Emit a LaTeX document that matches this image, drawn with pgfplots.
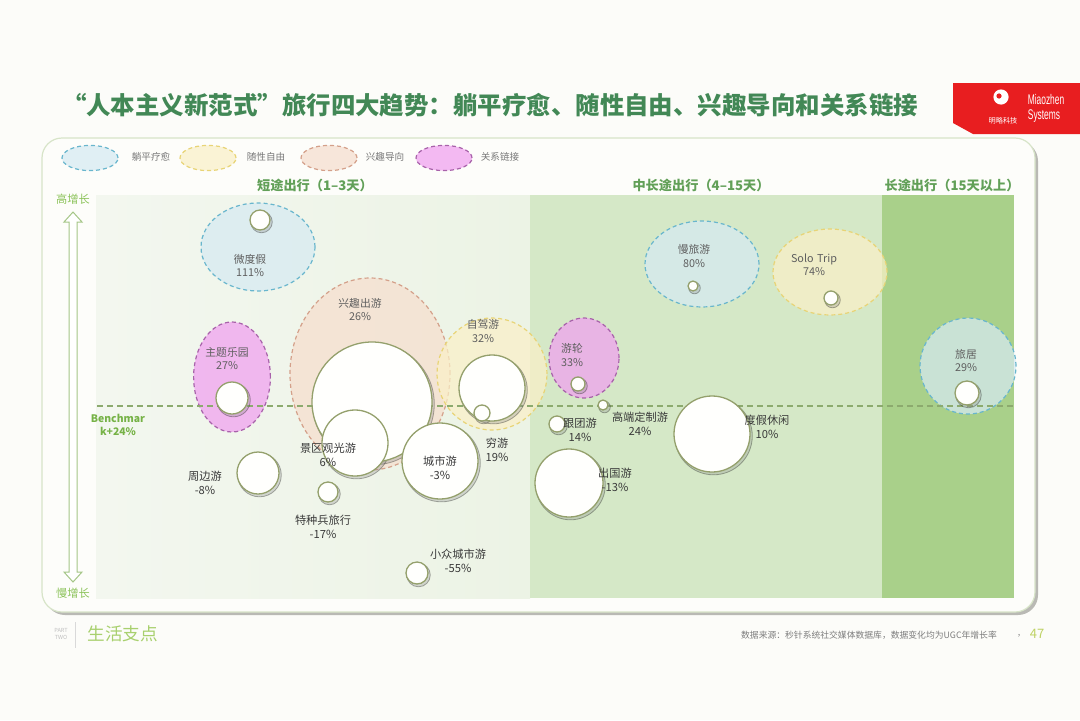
\documentclass[border=0pt]{standalone}
\usepackage{graphicx}
\usepackage{pgfplots}
\pgfplotsset{compat=1.18}
\usepackage{pgfplotstable}
\usepackage{fontspec}
\setmainfont{Noto Sans CJK SC}
\newfontfamily\latinfont{Liberation Sans}

\definecolor{pagebg}{RGB}{252,252,249}
\definecolor{titlegreen}{RGB}{66,136,86}
\definecolor{headgreen}{RGB}{98,160,88}
\definecolor{axisgreen}{RGB}{140,195,90}
\definecolor{benchgreen}{RGB}{118,178,70}
\definecolor{logored}{RGB}{232,30,32}
\definecolor{cardfill}{RGB}{253,253,250}
\definecolor{cardborder}{RGB}{215,228,200}
\definecolor{cardshadow}{RGB}{185,185,180}
\definecolor{panelA}{RGB}{236,243,229}
\definecolor{panelAl}{RGB}{243,247,239}
\definecolor{panelB}{RGB}{213,232,199}
\definecolor{panelC}{RGB}{169,208,138}
\definecolor{blueF}{RGB}{214,234,242}
\definecolor{blueD}{RGB}{105,182,205}
\definecolor{yelF}{RGB}{250,240,200}
\definecolor{yelD}{RGB}{232,212,118}
\definecolor{orF}{RGB}{246,222,206}
\definecolor{orD}{RGB}{212,160,138}
\definecolor{pinkF}{RGB}{240,160,240}
\definecolor{pinkD}{RGB}{168,98,170}
\definecolor{bubbleedge}{RGB}{148,160,108}
\definecolor{bubblefill}{RGB}{255,255,253}
\definecolor{lblgray}{RGB}{95,95,95}
\definecolor{lbldark}{RGB}{58,58,58}
\definecolor{leggray}{RGB}{120,120,120}
\definecolor{benchline}{RGB}{140,170,110}
\definecolor{footgreen}{RGB}{168,208,110}
\definecolor{srcgray}{RGB}{125,125,125}
\definecolor{pagenum}{RGB}{190,210,100}
\definecolor{arrowline}{RGB}{165,198,135}

% bubbles: x, y in pixel coordinates (y downward), r = radius in px
\pgfplotstableread{
x y r
372 402 60
355 443 33
440 461 38
492 388 33
482 413 8
260 220 10
232 398 16
258 473 21
328 492 10
417 573 11
578 384 7
603 405 5
557 424 8
569 483 34
712 434 38
693 286 5
831 298 7
967 393 12
}\bubbles

\tikzset{
  lbl/.style={align=center, text=lblgray, font=\fontsize{5.4}{6.7}\selectfont, inner sep=0pt},
  lbd/.style={align=center, text=lbldark, font=\fontsize{5.6}{6.9}\selectfont, inner sep=0pt},
  grp/.style={dashed, dash pattern=on 2pt off 1.5pt, line width=0.6pt, fill opacity=0.72},
}

\begin{document}
\begin{tikzpicture}
\begin{axis}[width=540pt, height=360pt, scale only axis,
  xmin=0, xmax=1080, ymin=0, ymax=720, y dir=reverse,
  hide axis, clip=false, set layers]

\fill[pagebg] (axis cs:0,0) rectangle (axis cs:1080,720);

% title
\node[text=titlegreen, inner sep=0pt] at (axis cs:490,105)
  {\resizebox{428pt}{!}{\fontsize{12.5}{14}\selectfont\bfseries “人本主义新范式”旅行四大趋势：躺平疗愈、随性自由、兴趣导向和关系链接}};

% logo
\fill[logored] (axis cs:953,83) -- (axis cs:1080,83) -- (axis cs:1080,134) -- (axis cs:973,134) -- (axis cs:953,123) -- cycle;
\fill[white] (axis cs:1001,97) circle[radius=3.8pt];
\fill[logored] (axis cs:999,96) circle[radius=1.3pt];
\node[text=white, inner sep=0pt] at (axis cs:1003,121) {\fontsize{3.6}{4}\selectfont 明略科技};
\node[text=white, inner sep=0pt] at (axis cs:1046,99) {\scalebox{0.6}[1]{\latinfont\fontsize{7}{7.5}\selectfont Miaozhen}};
\node[text=white, inner sep=0pt] at (axis cs:1044,116) {\scalebox{0.6}[1]{\latinfont\fontsize{7}{7.5}\selectfont Systems}};

% card
\fill[cardshadow, rounded corners=10pt] (axis cs:45,141) rectangle (axis cs:1038,615);
\filldraw[fill=cardfill, draw=cardborder, line width=0.6pt, rounded corners=10pt] (axis cs:42,138) rectangle (axis cs:1035,612);

% legend
\filldraw[grp, fill=blueF, draw=blueD] (axis cs:90,158) ellipse[x radius=14pt, y radius=6.3pt];
\filldraw[grp, fill=yelF, draw=yelD] (axis cs:208,158) ellipse[x radius=14pt, y radius=6.3pt];
\filldraw[grp, fill=orF, draw=orD] (axis cs:329,158) ellipse[x radius=14pt, y radius=6.3pt];
\filldraw[grp, fill=pinkF, draw=pinkD] (axis cs:444,158) ellipse[x radius=14pt, y radius=6.3pt];
\node[text=leggray, font=\fontsize{4.8}{5}\selectfont] at (axis cs:151,157) {躺平疗愈};
\node[text=leggray, font=\fontsize{4.8}{5}\selectfont] at (axis cs:266,157) {随性自由};
\node[text=leggray, font=\fontsize{4.8}{5}\selectfont] at (axis cs:385,157) {兴趣导向};
\node[text=leggray, font=\fontsize{4.8}{5}\selectfont] at (axis cs:500,157) {关系链接};

% section headers
\node[text=headgreen, font=\fontsize{6.6}{7}\selectfont\bfseries] at (axis cs:315,185) {短途出行（1–3天）};
\node[text=headgreen, font=\fontsize{6.6}{7}\selectfont\bfseries] at (axis cs:701,185) {中长途出行（4–15天）};
\node[text=headgreen, font=\fontsize{6.6}{7}\selectfont\bfseries] at (axis cs:952,185) {长途出行（15天以上）};

% panels
\shade[left color=panelAl, right color=panelA] (axis cs:96,195) rectangle (axis cs:530,598);
\fill[panelB] (axis cs:530,195) rectangle (axis cs:882,598);
\fill[panelC] (axis cs:882,195) rectangle (axis cs:1014,598);

% growth arrow
\filldraw[fill=white, draw=arrowline, line width=0.5pt]
 (axis cs:73,212) -- (axis cs:82,222) -- (axis cs:77,222) -- (axis cs:77,572) -- (axis cs:82,572)
 -- (axis cs:73,582) -- (axis cs:64,572) -- (axis cs:69,572) -- (axis cs:69,222) -- (axis cs:64,222) -- cycle;
\node[text=axisgreen, font=\fontsize{5.6}{6}\selectfont] at (axis cs:73,199) {高增长};
\node[text=axisgreen, font=\fontsize{5.6}{6}\selectfont] at (axis cs:73,593) {慢增长};

% group ellipses
\filldraw[grp, fill=blueF, draw=blueD] (axis cs:258,247) ellipse[x radius=28.5pt, y radius=22pt];
\filldraw[grp, fill=orF, draw=orD] (axis cs:370,374) ellipse[x radius=40pt, y radius=48pt];
\filldraw[grp, fill=yelF, draw=yelD] (axis cs:492,374) ellipse[x radius=27.5pt, y radius=28pt];
\filldraw[grp, fill=pinkF, draw=pinkD] (axis cs:232,377) ellipse[x radius=19.2pt, y radius=27.5pt];
\filldraw[grp, fill=pinkF, draw=pinkD] (axis cs:584,358) ellipse[x radius=17.5pt, y radius=20pt];
\filldraw[grp, fill=blueF, draw=blueD] (axis cs:702,264) ellipse[x radius=28.5pt, y radius=21.5pt];
\filldraw[grp, fill=yelF, draw=yelD] (axis cs:830,272) ellipse[x radius=28.5pt, y radius=21.5pt];
\filldraw[grp, fill=blueF, draw=blueD] (axis cs:968,366) ellipse[x radius=24pt, y radius=24pt];

% benchmark
\addplot[benchline, line width=0.7pt, dash pattern=on 3pt off 2pt] coordinates {(97,406) (1014,406)};
\node[text=benchgreen, font=\fontsize{5.2}{6.4}\selectfont\bfseries, align=center, inner sep=0pt] at (axis cs:118,425) {Benchmar\\k+24\%};

% bubble shadows
\addplot[scatter, only marks, mark=*,
  scatter/use mapped color={draw=none, fill=black!45},
  opacity=0.3,
  visualization depends on={0.5*\thisrow{r}+0.4 \as \perpointmarksize},
  scatter/@pre marker code/.append style={/tikz/mark size=\perpointmarksize}]
  table[x expr=\thisrow{x}+1.5, y expr=\thisrow{y}+2] {\bubbles};
% bubbles
\addplot[scatter, only marks, mark=*,
  scatter/use mapped color={draw=bubbleedge, fill=bubblefill},
  mark options={line width=0.65pt},
  visualization depends on={0.5*\thisrow{r} \as \perpointmarksize},
  scatter/@pre marker code/.append style={/tikz/mark size=\perpointmarksize}]
  table[x=x, y=y] {\bubbles};

% labels (on top of the bubbles)
\begin{pgfonlayer}{axis foreground}
\node[lbl] at (axis cs:250,265.5) {微度假\\111\%};
\node[lbl] at (axis cs:227,358.5) {主题乐园\\27\%};
\node[lbl] at (axis cs:360,309.5) {兴趣出游\\26\%};
\node[lbl] at (axis cs:483,331) {自驾游\\32\%};
\node[lbd] at (axis cs:328,455) {景区观光游\\6\%};
\node[lbd] at (axis cs:497,450) {穷游\\19\%};
\node[lbd] at (axis cs:440,467.5) {城市游\\-3\%};
\node[lbd] at (axis cs:205,483) {周边游\\-8\%};
\node[lbd] at (axis cs:323,527) {特种兵旅行\\-17\%};
\node[lbd] at (axis cs:458,560.5) {小众城市游\\-55\%};
\node[lbl] at (axis cs:572,355) {游轮\\33\%};
\node[lbl] at (axis cs:694,256) {慢旅游\\80\%};
\node[lbl] at (axis cs:814,264.5) {Solo\,\,Trip\\74\%};
\node[lbl] at (axis cs:966,360.5) {旅居\\29\%};
\node[lbd] at (axis cs:640,423.5) {高端定制游\\24\%};
\node[lbd] at (axis cs:580,430) {跟团游\\14\%};
\node[lbd] at (axis cs:615,480) {出国游\\-13\%};
\node[lbd] at (axis cs:767,426.5) {度假休闲\\10\%};
\end{pgfonlayer}

% footer
\node[text=black!25, font=\fontsize{2.8}{3.2}\selectfont, align=center, inner sep=0pt] at (axis cs:61,634) {PART\\TWO};
\draw[black!15, line width=0.4pt] (axis cs:75,622) -- (axis cs:75,648);
\node[text=footgreen, font=\fontsize{8.8}{9}\selectfont, anchor=west, inner sep=0pt] at (axis cs:87,634) {生活支点};
\node[text=srcgray, font=\fontsize{4.4}{5}\selectfont, inner sep=0pt] at (axis cs:869,635) {数据来源：秒针系统社交媒体数据库，数据变化均为UGC年增长率};
\node[text=srcgray, font=\fontsize{4.4}{5}\selectfont, inner sep=0pt] at (axis cs:1019,636) {,};
\node[text=pagenum, font=\fontsize{6.5}{7}\selectfont, inner sep=0pt] at (axis cs:1037,634) {47};

\end{axis}
\end{tikzpicture}
\end{document}
